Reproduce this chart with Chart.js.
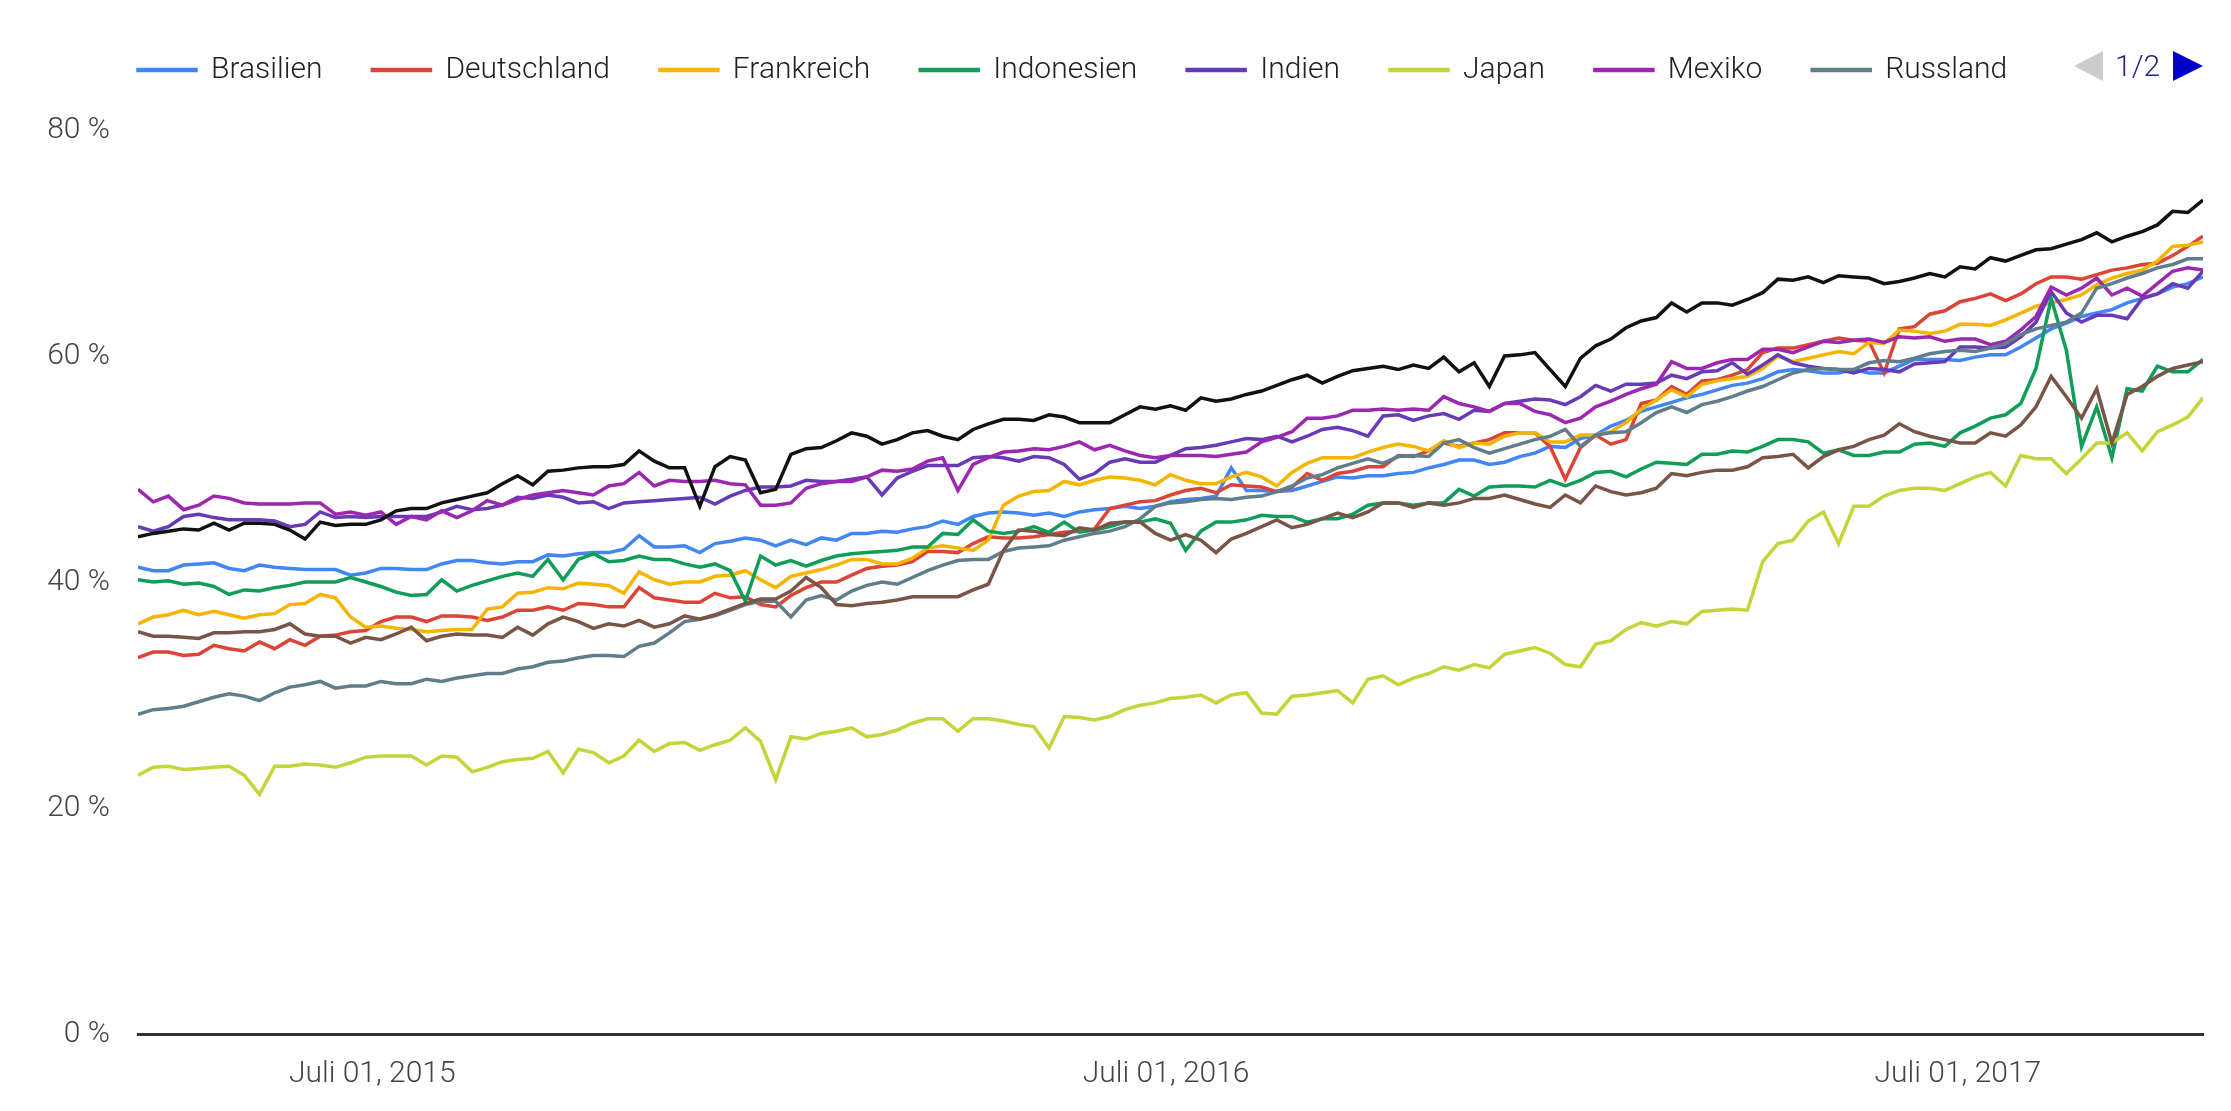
<!DOCTYPE html>
<html lang="de">
<head>
<meta charset="utf-8">
<title>Trend nach Land</title>
<script src="https://cdn.jsdelivr.net/npm/chart.js@4.4.1/dist/chart.umd.min.js"></script>
<style>
  html, body { margin: 0; padding: 0; background: #fff; }
  #wrap { position: relative; width: 2231px; height: 1111px; }
  #pager { position: absolute; left: 0; top: 51px; font-family: Roboto, sans-serif; font-weight: 300; font-size: 30px; line-height: 30px; }
  #pager .prev { position: absolute; left: 2074px; top: 0; width: 0; height: 0;
    border-top: 15px solid transparent; border-bottom: 15px solid transparent; border-right: 29px solid #cccccc; }
  #pager .page { position: absolute; left: 2115px; top: 0; color: #1f2a80; white-space: nowrap; }
  #pager .next { position: absolute; left: 2173px; top: 0; width: 0; height: 0;
    border-top: 15px solid transparent; border-bottom: 15px solid transparent; border-left: 30px solid #0000cc; }
</style>
</head>
<body>
<div id="wrap">
  <canvas id="trendChart" width="2231" height="1111"></canvas>
  <div id="pager"><span class="prev"></span><span class="page">1/2</span><span class="next"></span></div>
</div>
<script>
// weekly values (%), first week = 15.03.2015, 137 weeks
const firstWeek = '2015-03-15';

const brasilien = [
  41.3, 41.0, 41.0, 41.5, 41.6, 41.7, 41.2, 41.0, 41.5, 41.3, 41.2, 41.1, 41.1, 41.1, 40.6, 40.8, 41.2, 41.2, 41.1, 41.1, 41.6, 41.9, 41.9, 41.7, 41.6, 41.8, 41.8, 42.4,
  42.3, 42.5, 42.6, 42.6, 42.9, 44.1, 43.1, 43.1, 43.2, 42.6, 43.4, 43.6, 43.9, 43.7, 43.2, 43.7, 43.3, 43.9, 43.7, 44.3, 44.3, 44.5, 44.4, 44.7, 44.9, 45.4, 45.1,
  45.8, 46.1, 46.2, 46.1, 45.9, 46.1, 45.8, 46.2, 46.4, 46.5, 46.7, 46.5, 46.7, 47.1, 47.3, 47.4, 47.6, 50.1, 48.1, 48.1, 48.0, 48.1, 48.5, 48.9, 49.3, 49.2, 49.4,
  49.4, 49.6, 49.7, 50.1, 50.4, 50.8, 50.8, 50.4, 50.6, 51.1, 51.4, 52.0, 51.9, 52.7, 53.0, 53.8, 54.3, 55.1, 55.5, 55.9, 56.3, 56.6, 57.0, 57.4, 57.6, 58.0, 58.6,
  58.8, 58.7, 58.5, 58.5, 58.8, 58.5, 58.5, 59.1, 59.7, 59.7, 59.7, 59.6, 59.9, 60.1,
  60.1, 60.8, 61.6, 62.4, 62.9, 63.5, 63.8, 64.1, 64.7, 65.1, 65.5, 66.1, 66.4, 67.0
];
const deutschland = [
  33.3, 33.8, 33.8, 33.5, 33.6, 34.4, 34.1, 33.9, 34.7, 34.1, 34.9, 34.4, 35.2, 35.3, 35.6, 35.7, 36.5, 36.9, 36.9, 36.5, 37.0, 37.0, 36.9, 36.6, 36.9, 37.5, 37.5, 37.8,
  37.5, 38.1, 38.0, 37.8, 37.8, 39.5, 38.6, 38.4, 38.2, 38.2, 39.0, 38.6, 38.7, 38.0, 37.8, 38.8, 39.5, 40.0, 40.0, 40.6, 41.2, 41.4, 41.5, 41.8, 42.7, 42.7, 42.6,
  43.4, 44.0, 43.9, 43.9, 44.0, 44.2, 44.4, 44.5, 44.7, 46.5, 46.8, 47.1, 47.2, 47.7, 48.1, 48.3, 47.9, 48.6, 48.5, 48.4, 48.0, 48.4, 49.6, 49.0, 49.6, 49.8, 50.2,
  50.2, 51.2, 51.1, 51.6, 52.3, 52.0, 52.3, 52.6, 53.2, 53.2, 53.2, 52.0, 49.1, 51.9, 53.0, 52.2, 52.6, 55.8, 56.1, 57.3, 56.6, 57.8, 57.9, 58.3, 58.8, 60.3, 60.7,
  60.7, 61.0, 61.3, 61.6, 61.4, 61.3, 58.5, 62.4, 62.6, 63.7, 64.0, 64.8, 65.1, 65.5,
  64.9, 65.5, 66.4, 67.0, 67.0, 66.8, 67.2, 67.6, 67.8, 68.1, 68.2, 68.9, 69.7, 70.6
];
const frankreich = [
  36.3, 36.9, 37.1, 37.5, 37.1, 37.4, 37.1, 36.8, 37.1, 37.2, 38.0, 38.1, 38.9, 38.6, 36.9, 36.0, 36.1, 35.9, 35.8, 35.6, 35.7, 35.8, 35.8, 37.6, 37.8, 39.0, 39.1, 39.5,
  39.4, 39.9, 39.8, 39.7, 39.0, 40.9, 40.2, 39.8, 40.0, 40.0, 40.5, 40.6, 41.0, 40.2, 39.5, 40.5, 40.8, 41.1, 41.5, 42.0, 42.0, 41.6, 41.6, 42.1, 43.0, 43.2, 43.0,
  42.8, 43.7, 46.8, 47.6, 48.0, 48.1, 48.9, 48.6, 49.0, 49.3, 49.2, 49.0, 48.6, 49.5, 49.0, 48.7, 48.7, 49.3, 49.7, 49.3, 48.5, 49.7, 50.5, 51.0, 51.0, 51.0, 51.5,
  51.9, 52.2, 52.0, 51.6, 52.5, 51.9, 52.3, 52.2, 52.9, 53.2, 53.2, 52.4, 52.4, 53.0, 53.0, 53.3, 54.1, 55.3, 56.1, 57.0, 56.4, 57.5, 57.8, 58.0, 58.2, 58.9, 60.0,
  59.5, 59.8, 60.1, 60.4, 60.2, 61.2, 61.1, 62.3, 62.2, 62.0, 62.2, 62.8, 62.8, 62.7,
  63.2, 63.8, 64.4, 64.7, 65.0, 65.4, 66.3, 66.9, 67.3, 67.6, 68.4, 69.7, 69.8, 70.1
];
const indonesien = [
  40.2, 40.0, 40.1, 39.8, 39.9, 39.6, 38.9, 39.3, 39.2, 39.5, 39.7, 40.0, 40.0, 40.0, 40.4, 40.0, 39.6, 39.1, 38.8, 38.9, 40.2, 39.2, 39.7, 40.1, 40.5, 40.8, 40.5, 42.0,
  40.2, 42.0, 42.5, 41.8, 41.9, 42.3, 42.0, 42.0, 41.6, 41.3, 41.6, 41.0, 38.3, 42.3, 41.5, 41.9, 41.4, 41.9, 42.3, 42.5, 42.6, 42.7, 42.8, 43.1, 43.1, 44.3, 44.2,
  45.5, 44.5, 44.3, 44.5, 44.9, 44.4, 45.3, 44.4, 44.6, 44.9, 45.3, 45.3, 45.6, 45.2, 42.8, 44.5, 45.3, 45.3, 45.5, 45.9, 45.8, 45.8, 45.3, 45.6, 45.6, 46.0, 46.8,
  47.0, 47.0, 46.8, 47.0, 47.0, 48.2, 47.6, 48.4, 48.5, 48.5, 48.4, 49.0, 48.5, 49.0, 49.7, 49.8, 49.3, 50.0, 50.6, 50.5, 50.4, 51.3, 51.3, 51.6, 51.5, 52.0, 52.6,
  52.6, 52.4, 51.4, 51.7, 51.2, 51.2, 51.5, 51.5, 52.2, 52.3, 52.0, 53.2, 53.8, 54.5,
  54.8, 55.8, 58.9, 65.1, 60.5, 52.0, 55.5, 51.0, 57.1, 56.9, 59.1, 58.6, 58.6, 59.7
];
const indien = [
  44.9, 44.5, 44.9, 45.8, 46.0, 45.7, 45.5, 45.5, 45.5, 45.4, 44.9, 45.1, 46.2, 45.7, 45.8, 45.7, 45.8, 45.8, 45.8, 45.8, 46.2, 46.7, 46.4, 46.5, 46.8, 47.5, 47.4, 47.7,
  47.5, 47.0, 47.1, 46.5, 47.0, 47.1, 47.2, 47.3, 47.4, 47.5, 46.9, 47.6, 48.1, 48.4, 48.4, 48.5, 49.0, 48.9, 48.9, 49.1, 49.3, 47.7, 49.2, 49.8, 50.3, 50.3, 50.3,
  51.0, 51.1, 51.0, 50.7, 51.1, 51.0, 50.4, 49.1, 49.6, 50.6, 50.9, 50.6, 50.6, 51.2, 51.8, 51.9, 52.1, 52.4, 52.7, 52.6, 52.9, 52.4, 52.9, 53.5, 53.7, 53.4, 52.9,
  54.7, 54.8, 54.3, 54.7, 54.9, 54.4, 55.2, 55.1, 55.8, 56.0, 56.2, 56.1, 55.7, 56.4, 57.4, 56.9, 57.5, 57.5, 57.6, 58.3, 58.0, 58.6, 58.7, 59.4, 58.4, 59.2, 60.1,
  59.4, 59.1, 58.9, 58.8, 58.5, 58.9, 58.8, 58.6, 59.3, 59.4, 59.5, 60.8, 60.8, 60.7,
  60.8, 61.7, 63.0, 65.7, 63.8, 63.0, 63.6, 63.6, 63.3, 65.1, 65.5, 66.4, 66.0, 67.5
];
const japan = [
  22.9, 23.6, 23.7, 23.4, 23.5, 23.6, 23.7, 22.9, 21.2, 23.7, 23.7, 23.9, 23.8, 23.6, 24.0, 24.5, 24.6, 24.6, 24.6, 23.8, 24.6, 24.5, 23.2, 23.6, 24.1, 24.3, 24.4, 25.0,
  23.1, 25.2, 24.9, 24.0, 24.6, 26.0, 25.0, 25.7, 25.8, 25.1, 25.6, 26.0, 27.1, 25.9, 22.5, 26.3, 26.1, 26.6, 26.8, 27.1, 26.3, 26.5, 26.9, 27.5, 27.9, 27.9, 26.8,
  27.9, 27.9, 27.7, 27.4, 27.2, 25.3, 28.1, 28.0, 27.8, 28.1, 28.7, 29.1, 29.3, 29.7, 29.8, 30.0, 29.3, 30.0, 30.2, 28.4, 28.3, 29.9, 30.0, 30.2, 30.4, 29.3, 31.4,
  31.7, 30.9, 31.5, 31.9, 32.5, 32.2, 32.7, 32.4, 33.6, 33.9, 34.2, 33.7, 32.7, 32.5, 34.5, 34.8, 35.8, 36.4, 36.1, 36.5, 36.3, 37.4, 37.5, 37.6, 37.5, 41.8, 43.4,
  43.7, 45.4, 46.2, 43.4, 46.7, 46.7, 47.6, 48.1, 48.3, 48.3, 48.1, 48.7, 49.3, 49.7,
  48.5, 51.2, 50.9, 50.9, 49.6, 50.9, 52.3, 52.3, 53.2, 51.6, 53.3, 53.9, 54.6, 56.3
];
const mexiko = [
  48.2, 47.1, 47.6, 46.4, 46.8, 47.6, 47.4, 47.0, 46.9, 46.9, 46.9, 47.0, 47.0, 46.0, 46.2, 45.9, 46.2, 45.1, 45.8, 45.5, 46.3, 45.7, 46.3, 47.2, 46.8, 47.3, 47.7, 47.9,
  48.1, 47.9, 47.7, 48.5, 48.7, 49.7, 48.5, 49.0, 48.9, 48.9, 49.0, 48.7, 48.6, 46.8, 46.8, 47.0, 48.3, 48.7, 48.9, 48.9, 49.3, 49.9, 49.8, 50.0, 50.7, 51.0, 48.1,
  50.4, 51.0, 51.5, 51.6, 51.8, 51.7, 52.0, 52.4, 51.7, 52.1, 51.6, 51.2, 51.0, 51.2, 51.2, 51.2, 51.1, 51.3, 51.5, 52.4, 52.8, 53.3, 54.5, 54.5, 54.7, 55.2, 55.2,
  55.3, 55.2, 55.3, 55.2, 56.4, 55.8, 55.5, 55.1, 55.8, 55.8, 55.1, 54.8, 54.1, 54.5, 55.5, 56.0, 56.6, 57.1, 57.5, 59.5, 58.9, 58.9, 59.4, 59.7, 59.7, 60.6, 60.6,
  60.3, 60.8, 61.3, 61.2, 61.4, 61.5, 61.2, 61.7, 61.6, 61.7, 61.3, 61.5, 61.5, 61.0,
  61.3, 62.3, 63.5, 66.1, 65.4, 66.0, 66.9, 65.4, 66.0, 65.3, 66.4, 67.5, 67.8, 67.6
];
const russland = [
  28.3, 28.7, 28.8, 29.0, 29.4, 29.8, 30.1, 29.9, 29.5, 30.2, 30.7, 30.9, 31.2, 30.6, 30.8, 30.8, 31.2, 31.0, 31.0, 31.4, 31.2, 31.5, 31.7, 31.9, 31.9, 32.3, 32.5, 32.9,
  33.0, 33.3, 33.5, 33.5, 33.4, 34.3, 34.6, 35.5, 36.5, 36.7, 37.0, 37.5, 38.0, 38.3, 38.3, 36.9, 38.4, 38.8, 38.4, 39.2, 39.7, 40.0, 39.8, 40.4, 41.0, 41.5, 41.9,
  42.0, 42.0, 42.7, 43.0, 43.1, 43.2, 43.7, 44.0, 44.3, 44.5, 44.9, 45.6, 46.7, 47.0, 47.1, 47.3, 47.4, 47.3, 47.5, 47.6, 48.0, 48.5, 49.2, 49.5, 50.1, 50.5, 50.9,
  50.5, 51.1, 51.2, 51.1, 52.3, 52.6, 51.9, 51.4, 51.8, 52.2, 52.6, 52.9, 53.5, 52.0, 53.0, 53.2, 53.3, 54.1, 55.0, 55.5, 55.0, 55.7, 56.0, 56.4, 56.9, 57.3, 57.9,
  58.5, 58.8, 58.9, 58.8, 58.8, 59.4, 59.6, 59.5, 59.8, 60.2, 60.4, 60.5, 60.4, 60.7,
  61.1, 61.9, 62.4, 62.7, 63.0, 63.8, 66.0, 66.4, 66.9, 67.3, 67.8, 68.1, 68.6, 68.6
];
// series from legend page 2 (names not visible on page 1)
const seite2a = [
  44.0, 44.3, 44.5, 44.7, 44.6, 45.2, 44.6, 45.2, 45.2, 45.1, 44.6, 43.8, 45.3, 45.0, 45.1, 45.1, 45.5, 46.3, 46.5, 46.5, 47.0, 47.3, 47.6, 47.9, 48.7, 49.4, 48.6, 49.8,
  49.9, 50.1, 50.2, 50.2, 50.4, 51.6, 50.7, 50.1, 50.1, 46.7, 50.2, 51.1, 50.8, 47.9, 48.2, 51.3, 51.8, 51.9, 52.5, 53.2, 52.9, 52.2, 52.6, 53.2, 53.4, 52.9, 52.6,
  53.5, 54.0, 54.4, 54.4, 54.3, 54.8, 54.6, 54.1, 54.1, 54.1, 54.8, 55.5, 55.3, 55.6, 55.2, 56.3, 56.0, 56.2, 56.6, 56.9, 57.4, 57.9, 58.3, 57.6, 58.2, 58.7, 58.9,
  59.1, 58.8, 59.2, 58.9, 59.9, 58.6, 59.4, 57.3, 60.0, 60.1, 60.3, 58.8, 57.3, 59.8, 60.9, 61.5, 62.5, 63.1, 63.4, 64.7, 63.9, 64.7, 64.7, 64.5, 65.0, 65.6, 66.8,
  66.7, 67.0, 66.5, 67.1, 67.0, 66.9, 66.4, 66.6, 66.9, 67.3, 67.0, 67.9, 67.7, 68.7,
  68.4, 68.9, 69.4, 69.5, 69.9, 70.3, 70.9, 70.1, 70.6, 71.0, 71.6, 72.8, 72.7, 73.8
];
const seite2b = [
  35.6, 35.2, 35.2, 35.1, 35.0, 35.5, 35.5, 35.6, 35.6, 35.8, 36.3, 35.4, 35.2, 35.2, 34.6, 35.1, 34.9, 35.4, 36.0, 34.8, 35.2, 35.4, 35.3, 35.3, 35.1, 36.0, 35.3, 36.3,
  36.9, 36.5, 35.9, 36.3, 36.1, 36.6, 36.0, 36.3, 37.0, 36.7, 37.1, 37.6, 38.1, 38.5, 38.5, 39.2, 40.4, 39.5, 38.0, 37.9, 38.1, 38.2, 38.4, 38.7, 38.7, 38.7, 38.7,
  39.3, 39.8, 42.8, 44.6, 44.5, 44.2, 44.1, 44.8, 44.6, 45.2, 45.3, 45.3, 44.3, 43.7, 44.2, 43.7, 42.6, 43.8, 44.3, 44.9, 45.5, 44.8, 45.1, 45.6, 46.1, 45.7, 46.2,
  47.0, 47.0, 46.6, 47.0, 46.8, 47.0, 47.4, 47.4, 47.7, 47.3, 46.9, 46.6, 47.7, 47.0, 48.5, 48.0, 47.7, 47.9, 48.3, 49.6, 49.4, 49.7, 49.9, 49.9, 50.2, 51.0, 51.1,
  51.3, 50.1, 51.1, 51.7, 52.0, 52.6, 53.0, 54.0, 53.3, 52.9, 52.6, 52.3, 52.3, 53.2,
  52.9, 53.9, 55.5, 58.2, 56.4, 54.5, 57.1, 52.3, 56.6, 57.3, 58.2, 58.9, 59.2, 59.5
];

const seriesNames = ['Brasilien', 'Deutschland', 'Frankreich', 'Indonesien', 'Indien', 'Japan', 'Mexiko', 'Russland', 'Seite 2 (1)', 'Seite 2 (2)'];
const seriesValues = [brasilien, deutschland, frankreich, indonesien, indien, japan, mexiko, russland, seite2a, seite2b];
const seriesColors = ['#4285f4', '#db4437', '#f4b400', '#0f9d58', '#673ab7', '#c6d43a', '#9c27b0', '#607d8b', '#111111', '#795548'];
const legendPageSize = 8;

const tickDates = ['2015-07-01', '2016-07-01', '2017-07-01'];
const tickLabels = ['Juli 01, 2015', 'Juli 01, 2016', 'Juli 01, 2017'];
const yTicks = [0, 20, 40, 60, 80];

// position of a date on the week axis
const weekOf = (d) => (Date.parse(d) - Date.parse(firstWeek)) / (7 * 864e5);

const font = { family: 'Roboto', size: 30, weight: 300 };

// move the legend row so it starts above the plot, like the original
const legendShift = {
  id: 'legendShift',
  afterLayout(chart) {
    const lg = chart.legend;
    if (!lg) return;
    lg.left += 88; lg.right += 88;
    lg.top -= 35; lg.bottom -= 35;
  }
};

const ctx = document.querySelector('#trendChart').getContext('2d');
new Chart(ctx, {
  type: 'line',
  data: {
    datasets: seriesValues.map((vals, k) => ({
      label: seriesNames[k],
      data: vals.map((v, i) => ({ x: i, y: v })),
      borderColor: seriesColors[k],
      backgroundColor: seriesColors[k],
      borderWidth: 3.5,
      pointRadius: 0,
      pointHoverRadius: 0,
      tension: 0,
      order: seriesValues.length - k   // later series drawn on top
    }))
  },
  options: {
    responsive: false,
    animation: false,
    devicePixelRatio: 1,
    layout: { padding: { top: 40, right: 28, left: 0, bottom: 0 } },
    plugins: {
      legend: {
        position: 'top',
        align: 'start',
        labels: {
          boxWidth: 58,
          boxHeight: 1,
          padding: 50,
          color: '#222',
          font: font,
          filter: (item) => item.datasetIndex < legendPageSize,
          sort: (a, b) => a.datasetIndex - b.datasetIndex
        }
      },
      tooltip: { enabled: false }
    },
    scales: {
      x: {
        type: 'linear',
        min: 0,
        max: brasilien.length - 1,
        afterBuildTicks: (scale) => { scale.ticks = tickDates.map(d => ({ value: weekOf(d) })); },
        afterFit: (scale) => { scale.height = 77; },
        ticks: {
          autoSkip: false,
          maxRotation: 0,
          padding: 22,
          color: '#444',
          font: font,
          callback: (value, index) => tickLabels[index]
        },
        grid: { display: false, drawTicks: false },
        border: { display: true, color: '#333', width: 3 }
      },
      y: {
        min: 0,
        max: 80,
        afterBuildTicks: (scale) => { scale.ticks = yTicks.map(v => ({ value: v })); },
        afterFit: (scale) => { scale.width = 138; },
        ticks: {
          padding: 28,
          color: '#444',
          font: font,
          callback: (value) => value + ' %'
        },
        grid: { display: false, drawTicks: false },
        border: { display: false }
      }
    }
  },
  plugins: [legendShift]
});
</script>
</body>
</html>
